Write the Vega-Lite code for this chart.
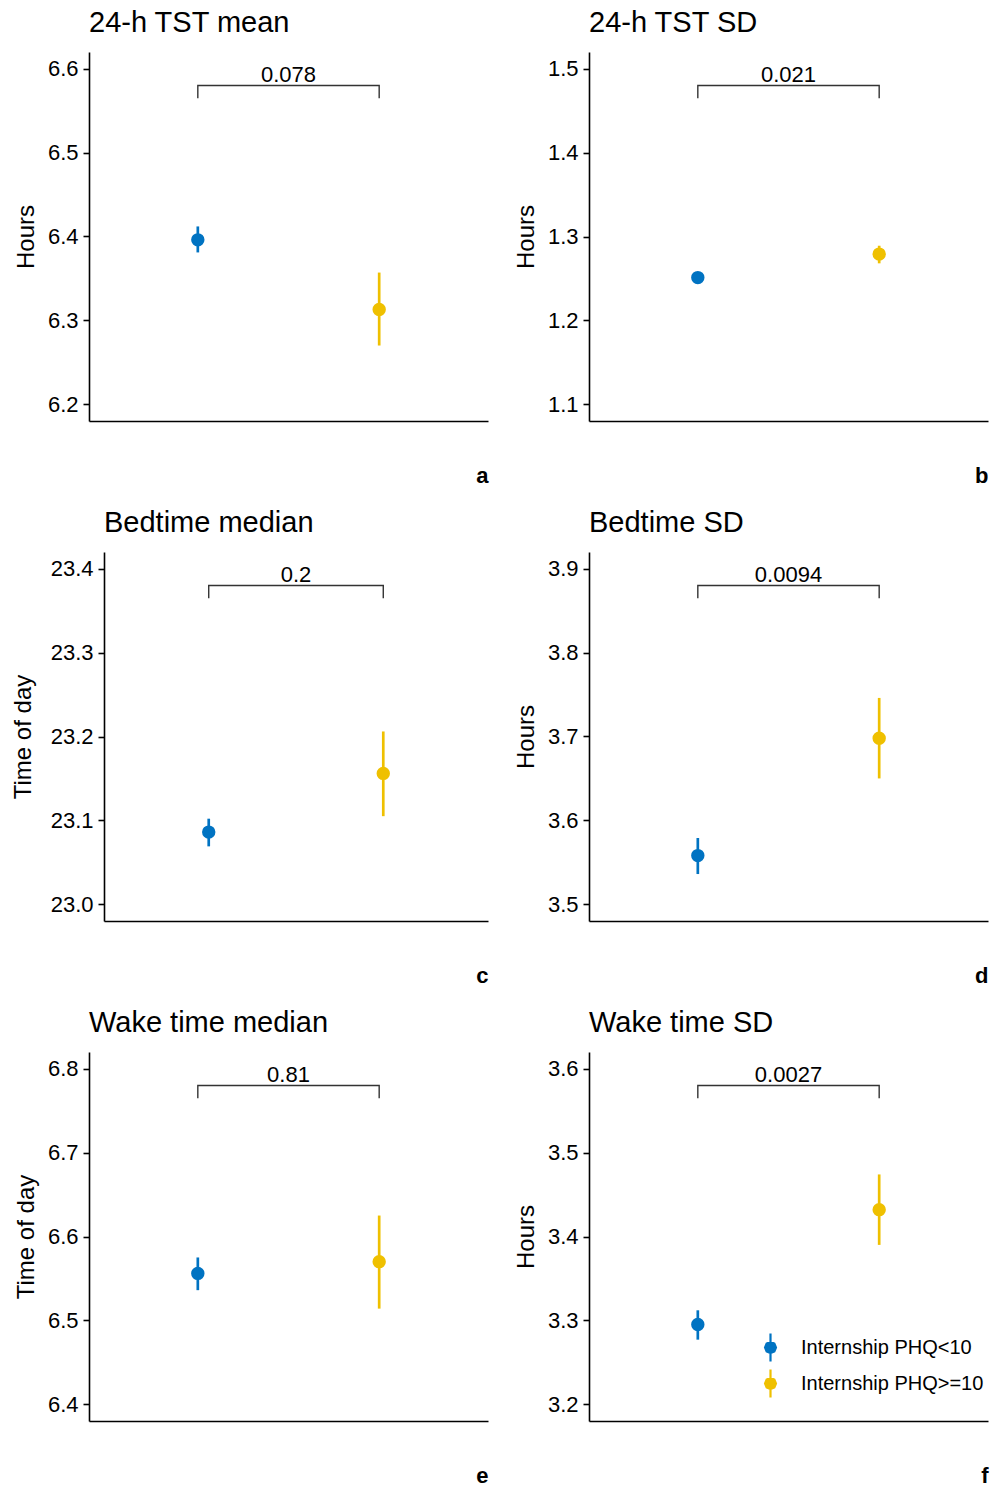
{
  "$schema": "https://vega.github.io/schema/vega-lite/v6.json",
  "background": "white",
  "padding": {"left": 11, "top": 9, "right": 5, "bottom": 0},
  "config": {
    "font": "Liberation Sans",
    "view": {"stroke": null},
    "axis": {"grid": false, "domainColor": "black", "domainWidth": 1.6, "tickColor": "black", "tickWidth": 1.6, "tickSize": 6, "labelFontSize": 22, "labelColor": "black", "labelPadding": 5, "titleFontSize": 24, "titleFontWeight": "normal", "titleColor": "black", "titlePadding": 9},
    "axisX": {"ticks": false, "labels": false, "titleFontWeight": "bold", "titleFontSize": 22, "titleAnchor": "end", "titlePadding": 44},
    "title": {"anchor": "start", "frame": "group", "fontSize": 29, "fontWeight": "normal", "color": "black", "offset": 14},
    "legend": {"orient": "none", "legendX": 166, "legendY": 280, "symbolType": "M0,-1L0,1M0.39,0L0.276,0.276L0,0.39L-0.276,0.276L-0.39,0L-0.276,-0.276L0,-0.39L0.276,-0.276ZM0.29,0L0.205,0.205L0,0.29L-0.205,0.205L-0.29,0L-0.205,-0.205L0,-0.29L0.205,-0.205ZM0.18,0L0.127,0.127L0,0.18L-0.127,0.127L-0.18,0L-0.127,-0.127L0,-0.18L0.127,-0.127ZM0.07,0L0,0.07L-0.07,0L0,-0.07Z", "symbolSize": 784, "symbolStrokeWidth": 2.2, "labelFontSize": 20, "labelColor": "black", "labelOffset": 15, "labelLimit": 400, "rowPadding": -1}
  },
  "resolve": {"scale": {"color": "independent", "fill": "independent", "stroke": "independent"}},
  "columns": 1,
  "align": "none",
  "spacing": 23,
  "concat": [
    {
      "resolve": {"scale": {"color": "independent", "fill": "independent", "stroke": "independent"}},
      "spacing": 26,
      "hconcat": [
        {
          "title": "24-h TST mean", "width": 399, "height": 369,
          "layer": [
            {"data": {"values": [{"bx": 1, "by": 6.565, "o": 0}, {"bx": 1, "by": 6.58, "o": 1}, {"bx": 2, "by": 6.58, "o": 2}, {"bx": 2, "by": 6.565, "o": 3}]},
             "mark": {"type": "line", "color": "#333333", "strokeWidth": 1.4},
             "encoding": {"x": {"field": "bx", "type": "quantitative", "title": "a", "scale": {"domain": [0.4, 2.6], "nice": false, "zero": false}}, "y": {"field": "by", "type": "quantitative", "title": "Hours", "scale": {"domain": [6.18, 6.62], "nice": false, "zero": false}, "axis": {"values": [6.2, 6.3, 6.4, 6.5, 6.6], "format": ".1f"}}, "order": {"field": "o"}}},
            {"data": {"values": [{"tx": 1.5, "ty": 6.58, "p": "0.078"}]},
             "mark": {"type": "text", "baseline": "bottom", "fontSize": 22, "dy": 1, "color": "black"},
             "encoding": {"x": {"field": "tx", "type": "quantitative", "title": "a"}, "y": {"field": "ty", "type": "quantitative", "title": "Hours"}, "text": {"field": "p"}}},
            {"data": {"values": [{"g": 1, "group": "Internship PHQ<10", "mean": 6.396, "lo": 6.381, "hi": 6.412}, {"g": 2, "group": "Internship PHQ>=10", "mean": 6.313, "lo": 6.27, "hi": 6.357}]},
             "layer": [
               {"mark": {"type": "rule", "strokeWidth": 2.7},
                "encoding": {"x": {"field": "g", "type": "quantitative", "title": "a"}, "y": {"field": "lo", "type": "quantitative", "title": "Hours"}, "y2": {"field": "hi"}, "color": {"field": "group", "type": "nominal", "scale": {"domain": ["Internship PHQ<10", "Internship PHQ>=10"], "range": ["#0073C2", "#EFC000"]}, "legend": null}}},
               {"mark": {"type": "point", "size": 130, "strokeWidth": 2, "opacity": 1},
                "encoding": {"x": {"field": "g", "type": "quantitative", "title": "a"}, "y": {"field": "mean", "type": "quantitative", "title": "Hours"}, "fill": {"field": "group", "type": "nominal", "scale": {"domain": ["Internship PHQ<10", "Internship PHQ>=10"], "range": ["#0073C2", "#EFC000"]}, "legend": null}, "stroke": {"field": "group", "type": "nominal", "scale": {"domain": ["Internship PHQ<10", "Internship PHQ>=10"], "range": ["#0073C2", "#EFC000"]}, "legend": null}}}
             ]}
          ]
        },
        {
          "title": "24-h TST SD", "width": 399, "height": 369,
          "layer": [
            {"data": {"values": [{"bx": 1, "by": 1.465, "o": 0}, {"bx": 1, "by": 1.48, "o": 1}, {"bx": 2, "by": 1.48, "o": 2}, {"bx": 2, "by": 1.465, "o": 3}]},
             "mark": {"type": "line", "color": "#333333", "strokeWidth": 1.4},
             "encoding": {"x": {"field": "bx", "type": "quantitative", "title": "b", "scale": {"domain": [0.4, 2.6], "nice": false, "zero": false}}, "y": {"field": "by", "type": "quantitative", "title": "Hours", "scale": {"domain": [1.08, 1.52], "nice": false, "zero": false}, "axis": {"values": [1.1, 1.2, 1.3, 1.4, 1.5], "format": ".1f"}}, "order": {"field": "o"}}},
            {"data": {"values": [{"tx": 1.5, "ty": 1.48, "p": "0.021"}]},
             "mark": {"type": "text", "baseline": "bottom", "fontSize": 22, "dy": 1, "color": "black"},
             "encoding": {"x": {"field": "tx", "type": "quantitative", "title": "b"}, "y": {"field": "ty", "type": "quantitative", "title": "Hours"}, "text": {"field": "p"}}},
            {"data": {"values": [{"g": 1, "group": "Internship PHQ<10", "mean": 1.251, "lo": 1.246, "hi": 1.256}, {"g": 2, "group": "Internship PHQ>=10", "mean": 1.279, "lo": 1.268, "hi": 1.289}]},
             "layer": [
               {"mark": {"type": "rule", "strokeWidth": 2.7},
                "encoding": {"x": {"field": "g", "type": "quantitative", "title": "b"}, "y": {"field": "lo", "type": "quantitative", "title": "Hours"}, "y2": {"field": "hi"}, "color": {"field": "group", "type": "nominal", "scale": {"domain": ["Internship PHQ<10", "Internship PHQ>=10"], "range": ["#0073C2", "#EFC000"]}, "legend": null}}},
               {"mark": {"type": "point", "size": 130, "strokeWidth": 2, "opacity": 1},
                "encoding": {"x": {"field": "g", "type": "quantitative", "title": "b"}, "y": {"field": "mean", "type": "quantitative", "title": "Hours"}, "fill": {"field": "group", "type": "nominal", "scale": {"domain": ["Internship PHQ<10", "Internship PHQ>=10"], "range": ["#0073C2", "#EFC000"]}, "legend": null}, "stroke": {"field": "group", "type": "nominal", "scale": {"domain": ["Internship PHQ<10", "Internship PHQ>=10"], "range": ["#0073C2", "#EFC000"]}, "legend": null}}}
             ]}
          ]
        }
      ]
    },
    {
      "resolve": {"scale": {"color": "independent", "fill": "independent", "stroke": "independent"}},
      "spacing": 26,
      "hconcat": [
        {
          "title": {"text": "Bedtime median", "dx": 15}, "width": 399, "height": 369,
          "layer": [
            {"data": {"values": [{"bx": 1, "by": 23.365, "o": 0}, {"bx": 1, "by": 23.38, "o": 1}, {"bx": 2, "by": 23.38, "o": 2}, {"bx": 2, "by": 23.365, "o": 3}]},
             "mark": {"type": "line", "color": "#333333", "strokeWidth": 1.4},
             "encoding": {"x": {"field": "bx", "type": "quantitative", "title": "c", "scale": {"domain": [0.4, 2.6], "range": [15, 399], "nice": false, "zero": false}}, "y": {"field": "by", "type": "quantitative", "title": "Time of day", "scale": {"domain": [22.98, 23.42], "nice": false, "zero": false}, "axis": {"values": [23.0, 23.1, 23.2, 23.3, 23.4], "format": ".1f", "offset": -15, "titlePadding": 15}}, "order": {"field": "o"}}},
            {"data": {"values": [{"tx": 1.5, "ty": 23.38, "p": "0.2"}]},
             "mark": {"type": "text", "baseline": "bottom", "fontSize": 22, "dy": 1, "color": "black"},
             "encoding": {"x": {"field": "tx", "type": "quantitative", "title": "c"}, "y": {"field": "ty", "type": "quantitative", "title": "Time of day"}, "text": {"field": "p"}}},
            {"data": {"values": [{"g": 1, "group": "Internship PHQ<10", "mean": 23.086, "lo": 23.069, "hi": 23.102}, {"g": 2, "group": "Internship PHQ>=10", "mean": 23.156, "lo": 23.105, "hi": 23.206}]},
             "layer": [
               {"mark": {"type": "rule", "strokeWidth": 2.7},
                "encoding": {"x": {"field": "g", "type": "quantitative", "title": "c"}, "y": {"field": "lo", "type": "quantitative", "title": "Time of day"}, "y2": {"field": "hi"}, "color": {"field": "group", "type": "nominal", "scale": {"domain": ["Internship PHQ<10", "Internship PHQ>=10"], "range": ["#0073C2", "#EFC000"]}, "legend": null}}},
               {"mark": {"type": "point", "size": 130, "strokeWidth": 2, "opacity": 1},
                "encoding": {"x": {"field": "g", "type": "quantitative", "title": "c"}, "y": {"field": "mean", "type": "quantitative", "title": "Time of day"}, "fill": {"field": "group", "type": "nominal", "scale": {"domain": ["Internship PHQ<10", "Internship PHQ>=10"], "range": ["#0073C2", "#EFC000"]}, "legend": null}, "stroke": {"field": "group", "type": "nominal", "scale": {"domain": ["Internship PHQ<10", "Internship PHQ>=10"], "range": ["#0073C2", "#EFC000"]}, "legend": null}}}
             ]}
          ]
        },
        {
          "title": "Bedtime SD", "width": 399, "height": 369,
          "layer": [
            {"data": {"values": [{"bx": 1, "by": 3.865, "o": 0}, {"bx": 1, "by": 3.88, "o": 1}, {"bx": 2, "by": 3.88, "o": 2}, {"bx": 2, "by": 3.865, "o": 3}]},
             "mark": {"type": "line", "color": "#333333", "strokeWidth": 1.4},
             "encoding": {"x": {"field": "bx", "type": "quantitative", "title": "d", "scale": {"domain": [0.4, 2.6], "nice": false, "zero": false}}, "y": {"field": "by", "type": "quantitative", "title": "Hours", "scale": {"domain": [3.48, 3.92], "nice": false, "zero": false}, "axis": {"values": [3.5, 3.6, 3.7, 3.8, 3.9], "format": ".1f"}}, "order": {"field": "o"}}},
            {"data": {"values": [{"tx": 1.5, "ty": 3.88, "p": "0.0094"}]},
             "mark": {"type": "text", "baseline": "bottom", "fontSize": 22, "dy": 1, "color": "black"},
             "encoding": {"x": {"field": "tx", "type": "quantitative", "title": "d"}, "y": {"field": "ty", "type": "quantitative", "title": "Hours"}, "text": {"field": "p"}}},
            {"data": {"values": [{"g": 1, "group": "Internship PHQ<10", "mean": 3.558, "lo": 3.536, "hi": 3.579}, {"g": 2, "group": "Internship PHQ>=10", "mean": 3.698, "lo": 3.65, "hi": 3.746}]},
             "layer": [
               {"mark": {"type": "rule", "strokeWidth": 2.7},
                "encoding": {"x": {"field": "g", "type": "quantitative", "title": "d"}, "y": {"field": "lo", "type": "quantitative", "title": "Hours"}, "y2": {"field": "hi"}, "color": {"field": "group", "type": "nominal", "scale": {"domain": ["Internship PHQ<10", "Internship PHQ>=10"], "range": ["#0073C2", "#EFC000"]}, "legend": null}}},
               {"mark": {"type": "point", "size": 130, "strokeWidth": 2, "opacity": 1},
                "encoding": {"x": {"field": "g", "type": "quantitative", "title": "d"}, "y": {"field": "mean", "type": "quantitative", "title": "Hours"}, "fill": {"field": "group", "type": "nominal", "scale": {"domain": ["Internship PHQ<10", "Internship PHQ>=10"], "range": ["#0073C2", "#EFC000"]}, "legend": null}, "stroke": {"field": "group", "type": "nominal", "scale": {"domain": ["Internship PHQ<10", "Internship PHQ>=10"], "range": ["#0073C2", "#EFC000"]}, "legend": null}}}
             ]}
          ]
        }
      ]
    },
    {
      "resolve": {"scale": {"color": "independent", "fill": "independent", "stroke": "independent"}},
      "spacing": 26,
      "hconcat": [
        {
          "title": "Wake time median", "width": 399, "height": 369,
          "layer": [
            {"data": {"values": [{"bx": 1, "by": 6.765, "o": 0}, {"bx": 1, "by": 6.78, "o": 1}, {"bx": 2, "by": 6.78, "o": 2}, {"bx": 2, "by": 6.765, "o": 3}]},
             "mark": {"type": "line", "color": "#333333", "strokeWidth": 1.4},
             "encoding": {"x": {"field": "bx", "type": "quantitative", "title": "e", "scale": {"domain": [0.4, 2.6], "nice": false, "zero": false}}, "y": {"field": "by", "type": "quantitative", "title": "Time of day", "scale": {"domain": [6.38, 6.82], "nice": false, "zero": false}, "axis": {"values": [6.4, 6.5, 6.6, 6.7, 6.8], "format": ".1f"}}, "order": {"field": "o"}}},
            {"data": {"values": [{"tx": 1.5, "ty": 6.78, "p": "0.81"}]},
             "mark": {"type": "text", "baseline": "bottom", "fontSize": 22, "dy": 1, "color": "black"},
             "encoding": {"x": {"field": "tx", "type": "quantitative", "title": "e"}, "y": {"field": "ty", "type": "quantitative", "title": "Time of day"}, "text": {"field": "p"}}},
            {"data": {"values": [{"g": 1, "group": "Internship PHQ<10", "mean": 6.556, "lo": 6.536, "hi": 6.575}, {"g": 2, "group": "Internship PHQ>=10", "mean": 6.57, "lo": 6.514, "hi": 6.625}]},
             "layer": [
               {"mark": {"type": "rule", "strokeWidth": 2.7},
                "encoding": {"x": {"field": "g", "type": "quantitative", "title": "e"}, "y": {"field": "lo", "type": "quantitative", "title": "Time of day"}, "y2": {"field": "hi"}, "color": {"field": "group", "type": "nominal", "scale": {"domain": ["Internship PHQ<10", "Internship PHQ>=10"], "range": ["#0073C2", "#EFC000"]}, "legend": null}}},
               {"mark": {"type": "point", "size": 130, "strokeWidth": 2, "opacity": 1},
                "encoding": {"x": {"field": "g", "type": "quantitative", "title": "e"}, "y": {"field": "mean", "type": "quantitative", "title": "Time of day"}, "fill": {"field": "group", "type": "nominal", "scale": {"domain": ["Internship PHQ<10", "Internship PHQ>=10"], "range": ["#0073C2", "#EFC000"]}, "legend": null}, "stroke": {"field": "group", "type": "nominal", "scale": {"domain": ["Internship PHQ<10", "Internship PHQ>=10"], "range": ["#0073C2", "#EFC000"]}, "legend": null}}}
             ]}
          ]
        },
        {
          "title": "Wake time SD", "width": 399, "height": 369,
          "layer": [
            {"data": {"values": [{"bx": 1, "by": 3.565, "o": 0}, {"bx": 1, "by": 3.58, "o": 1}, {"bx": 2, "by": 3.58, "o": 2}, {"bx": 2, "by": 3.565, "o": 3}]},
             "mark": {"type": "line", "color": "#333333", "strokeWidth": 1.4},
             "encoding": {"x": {"field": "bx", "type": "quantitative", "title": "f", "scale": {"domain": [0.4, 2.6], "nice": false, "zero": false}}, "y": {"field": "by", "type": "quantitative", "title": "Hours", "scale": {"domain": [3.18, 3.62], "nice": false, "zero": false}, "axis": {"values": [3.2, 3.3, 3.4, 3.5, 3.6], "format": ".1f"}}, "order": {"field": "o"}}},
            {"data": {"values": [{"tx": 1.5, "ty": 3.58, "p": "0.0027"}]},
             "mark": {"type": "text", "baseline": "bottom", "fontSize": 22, "dy": 1, "color": "black"},
             "encoding": {"x": {"field": "tx", "type": "quantitative", "title": "f"}, "y": {"field": "ty", "type": "quantitative", "title": "Hours"}, "text": {"field": "p"}}},
            {"data": {"values": [{"g": 1, "group": "Internship PHQ<10", "mean": 3.295, "lo": 3.277, "hi": 3.312}, {"g": 2, "group": "Internship PHQ>=10", "mean": 3.432, "lo": 3.39, "hi": 3.474}]},
             "layer": [
               {"mark": {"type": "rule", "strokeWidth": 2.7},
                "encoding": {"x": {"field": "g", "type": "quantitative", "title": "f"}, "y": {"field": "lo", "type": "quantitative", "title": "Hours"}, "y2": {"field": "hi"}, "color": {"field": "group", "type": "nominal", "scale": {"domain": ["Internship PHQ<10", "Internship PHQ>=10"], "range": ["#0073C2", "#EFC000"]}, "legend": {"title": null}}}},
               {"mark": {"type": "point", "size": 130, "strokeWidth": 2, "opacity": 1},
                "encoding": {"x": {"field": "g", "type": "quantitative", "title": "f"}, "y": {"field": "mean", "type": "quantitative", "title": "Hours"}, "fill": {"field": "group", "type": "nominal", "scale": {"domain": ["Internship PHQ<10", "Internship PHQ>=10"], "range": ["#0073C2", "#EFC000"]}, "legend": null}, "stroke": {"field": "group", "type": "nominal", "scale": {"domain": ["Internship PHQ<10", "Internship PHQ>=10"], "range": ["#0073C2", "#EFC000"]}, "legend": null}}}
             ]}
          ]
        }
      ]
    }
  ]
}
